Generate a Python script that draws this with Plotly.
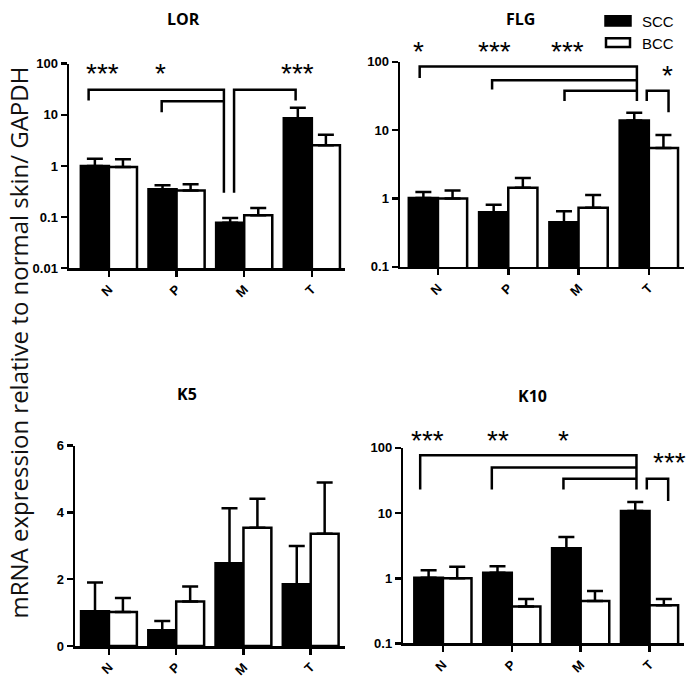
import math
import plotly.graph_objects as go

W, H = 692, 687

categories = ["N", "P", "M", "T"]
cat_idx = [0, 1, 2, 3]

# values (mean) and upper error (SEM) per panel
lor_scc = [1.0, 0.35, 0.077, 8.6]
lor_scc_err = [0.38, 0.07, 0.019, 5.2]
lor_bcc = [0.95, 0.33, 0.108, 2.55]
lor_bcc_err = [0.40, 0.11, 0.042, 1.55]

flg_scc = [1.02, 0.63, 0.45, 13.9]
flg_scc_err = [0.23, 0.18, 0.20, 4.0]
flg_bcc = [1.0, 1.44, 0.73, 5.5]
flg_bcc_err = [0.31, 0.56, 0.40, 3.0]

k5_scc = [1.04, 0.47, 2.48, 1.85]
k5_scc_err = [0.86, 0.28, 1.64, 1.14]
k5_bcc = [1.02, 1.33, 3.54, 3.36]
k5_bcc_err = [0.42, 0.45, 0.87, 1.53]

k10_scc = [1.02, 1.22, 2.9, 10.8]
k10_scc_err = [0.31, 0.31, 1.4, 4.0]
k10_bcc = [1.0, 0.37, 0.45, 0.385]
k10_bcc_err = [0.5, 0.11, 0.19, 0.095]

series_names = ["SCC", "BCC"]
panel_titles = ["LOR", "FLG", "K5", "K10"]
log_ticks = [0.01, 0.1, 1, 10, 100]
log_tick_text = ["0.01", "0.1", "1", "10", "100"]
lin_ticks = [0, 2, 4, 6]
y_title = "mRNA expression relative to normal skin/ GAPDH"

# significance brackets: (left cat, left offset, right cat, right offset, y left foot, y top, y right foot)
lor_brackets = [
    (0, -0.30, 2, -0.30, 19.0, 31.0, 0.30),
    (1, -0.22, 2, -0.30, 11.3, 18.4, 18.4),
    (2, -0.15, 3, -0.24, 0.30, 31.0, 19.0),
]
lor_stars = [("***", 0, -0.10, 66), ("*", 1, -0.24, 66), ("***", 3, -0.21, 66)]

flg_brackets = [
    (0, -0.26, 3, -0.17, 58.0, 85.0, 26.8),
    (1, -0.23, 3, -0.17, 39.3, 53.5, 53.5),
    (2, -0.20, 3, -0.17, 26.8, 37.7, 37.7),
    (3, -0.03, 3, 0.28, 26.8, 37.7, 18.3),
]
flg_stars = [("*", 0, -0.27, 145), ("***", 1, -0.20, 145), ("***", 2, -0.16, 145), ("*", 3, 0.26, 66)]

k10_brackets = [
    (0, -0.33, 3, -0.19, 22.9, 76.8, 22.9),
    (1, -0.29, 3, -0.19, 22.9, 50.0, 50.0),
    (2, -0.25, 3, -0.19, 22.9, 33.5, 33.5),
    (3, -0.04, 3, 0.27, 22.9, 33.5, 15.3),
]
k10_stars = [("***", 0, -0.23, 136), ("**", 1, -0.20, 136), ("*", 2, -0.25, 136), ("***", 3, 0.29, 61)]

panels = [
    dict(scc=lor_scc, scce=lor_scc_err, bcc=lor_bcc, bcce=lor_bcc_err, log=True, yr=[-2, 2],
         br=lor_brackets, st=lor_stars, xd=(69, 345), yd=(58, 267), xr=[-0.59, 3.49], title=(183, 12.5)),
    dict(scc=flg_scc, scce=flg_scc_err, bcc=flg_bcc, bcce=flg_bcc_err, log=True, yr=[-1, 2],
         br=flg_brackets, st=flg_stars, xd=(400, 684), yd=(56, 265.7), xr=[-0.54, 3.5], title=(520, 12.5)),
    dict(scc=k5_scc, scce=k5_scc_err, bcc=k5_bcc, bcce=k5_bcc_err, log=False, yr=[0, 6],
         br=[], st=[], xd=(75, 345), yd=(448.3, 653.3), xr=[-0.505, 3.51], title=(187, 396)),
    dict(scc=k10_scc, scce=k10_scc_err, bcc=k10_bcc, bcce=k10_bcc_err, log=True, yr=[-1, 2],
         br=k10_brackets, st=k10_stars, xd=(403.3, 684), yd=(450.7, 650.7), xr=[-0.575, 3.5], title=(532, 398)),
]

fig = go.Figure()
TICKFONT = dict(family="Liberation Sans", size=13, color="black", weight="bold")
STARFONT = dict(family="Liberation Sans", size=28, color="black")

for i, p in enumerate(panels):
    n = "" if i == 0 else str(i + 1)
    xa, ya = "x" + n, "y" + n
    for name, vals, errs, fill in [("SCC", p["scc"], p["scce"], "black"), ("BCC", p["bcc"], p["bcce"], "white")]:
        fig.add_trace(go.Bar(
            x=cat_idx, y=vals, name=name, xaxis=xa, yaxis=ya, showlegend=False,
            marker=dict(color=fill, line=dict(color="black", width=2.5)),
            error_y=dict(type="data", array=errs, arrayminus=[0] * len(errs), symmetric=False,
                         color="black", thickness=2.5, width=8),
            offsetgroup=name, hoverinfo="skip",
        ))
    for (c0, o0, c1, o1, yl, yt, yrr) in p["br"]:
        fig.add_trace(go.Scatter(
            x=[c0 + o0, c0 + o0, c1 + o1, c1 + o1], y=[yl, yt, yt, yrr], mode="lines",
            line=dict(color="black", width=2.5), xaxis=xa, yaxis=ya, showlegend=False, hoverinfo="skip",
        ))
    r0, r1 = p["yr"]
    x0r, x1r = p["xr"]
    for (txt, c, o, yv) in p["st"]:
        yval = math.log10(yv) if p["log"] else yv
        fig.add_annotation(
            text=txt, x=(c + o - x0r) / (x1r - x0r), y=(yval - r0) / (r1 - r0),
            xref=xa + " domain", yref=ya + " domain", showarrow=False,
            xanchor="center", yanchor="middle", yshift=-1, font=STARFONT,
        )
    xd, yd = p["xd"], p["yd"]
    fig.layout["xaxis" + n] = dict(
        domain=[xd[0] / W, xd[1] / W], anchor=ya, range=p["xr"], tickvals=cat_idx, ticktext=categories,
        tickangle=-45, showline=True, linecolor="black", linewidth=2.5, ticks="outside", ticklen=6,
        tickwidth=2.5, tickcolor="black", showgrid=False, zeroline=False, tickfont=dict(TICKFONT, size=13),
        fixedrange=True,
    )
    yaxis = dict(
        domain=[1 - yd[1] / H, 1 - yd[0] / H], anchor=xa, range=p["yr"], showline=True, linecolor="black",
        linewidth=2.5, ticks="outside", ticklen=6, tickwidth=2.5, tickcolor="black", showgrid=False,
        zeroline=False, tickfont=TICKFONT, fixedrange=True,
    )
    if p["log"]:
        yaxis.update(type="log", tickvals=log_ticks, ticktext=log_tick_text)
    else:
        yaxis.update(tickvals=lin_ticks)
    fig.layout["yaxis" + n] = yaxis
    fig.add_annotation(text="<b>%s</b>" % panel_titles[i], x=p["title"][0] / W, y=1 - p["title"][1] / H,
                       xref="paper", yref="paper", showarrow=False, xanchor="center", yanchor="middle",
                       font=dict(family="Open Sans", size=16, color="black"))

# y axis title
fig.add_annotation(text=y_title, x=19 / W, y=1 - 343 / H, xref="paper", yref="paper", showarrow=False,
                   textangle=-90, xanchor="center", yanchor="middle",
                   font=dict(family="Open Sans", size=24, color="#111111"))

# legend (drawn)
fig.add_shape(type="rect", xref="paper", yref="paper", x0=605 / W, x1=631 / W, y0=1 - 19.5 / H, y1=1 - 9 / H,
              fillcolor="black", line=dict(color="black", width=1.5))
fig.add_shape(type="rect", xref="paper", yref="paper", x0=606 / W, x1=630 / W, y0=1 - 41 / H, y1=1 - 32 / H,
              fillcolor="white", line=dict(color="black", width=2.5))
for nm, yy in zip(series_names, [15, 37]):
    fig.add_annotation(text=nm, x=640 / W, y=1 - yy / H, xref="paper", yref="paper", showarrow=False,
                       xanchor="left", yanchor="middle", font=dict(family="Liberation Sans", size=15, color="black"))

fig.update_layout(
    width=W, height=H, margin=dict(l=0, r=0, t=0, b=0), paper_bgcolor="white", plot_bgcolor="white",
    barmode="group", bargap=0.17, bargroupgap=0, showlegend=False, hovermode=False,
)
fig.write_html("out.html", config={"displayModeBar": False, "staticPlot": True},
               post_script="document.body.style.margin='0px';")
